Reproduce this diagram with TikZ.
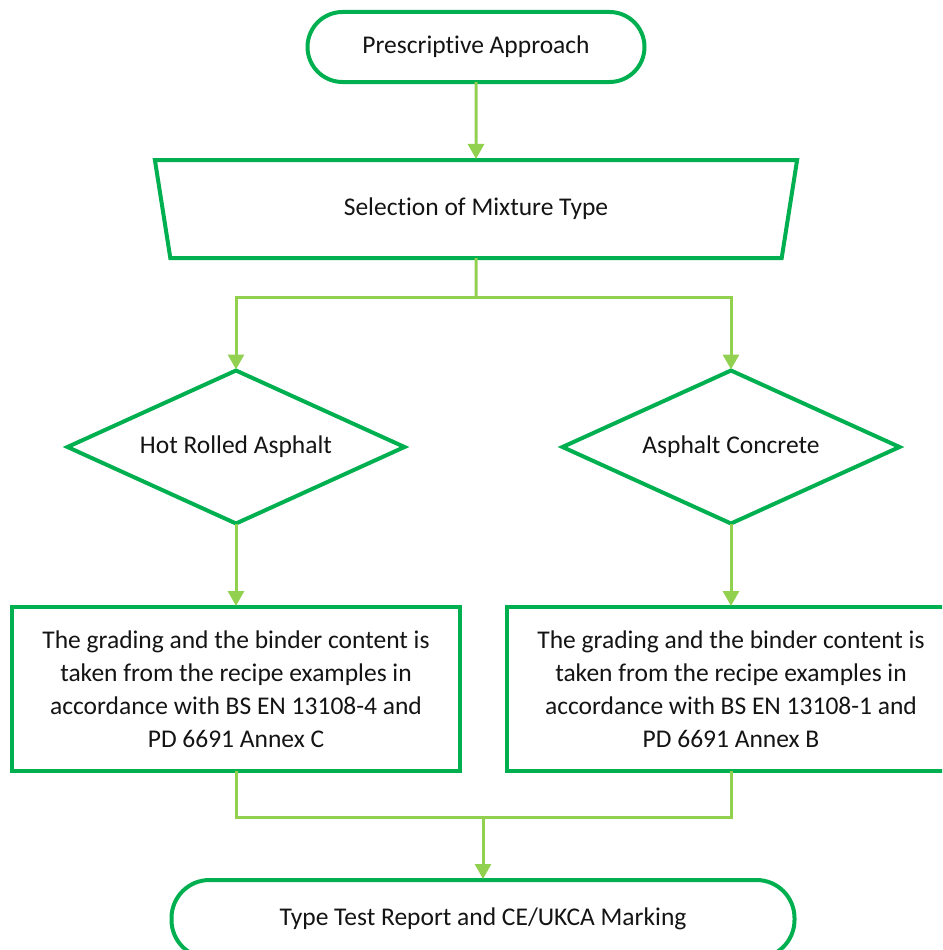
\documentclass[tikz,border=0pt]{standalone}
\usepackage{fontspec}
\setmainfont{Carlito}[Ligatures=CommonOff]
\usetikzlibrary{shapes.geometric,arrows.meta,calc}
\definecolor{edgegreen}{HTML}{00B050}
\definecolor{flowgreen}{HTML}{92D050}
\definecolor{inktext}{HTML}{141414}
\begin{document}
\begin{tikzpicture}[x=1pt,y=-1pt,
  every node/.style={font=\fontsize{25.5}{33}\selectfont, text=inktext},
  shapebase/.style={draw=edgegreen, line width=4pt, fill=white, inner sep=0pt, outer sep=0pt},
  terminal/.style={shapebase, rectangle, rounded corners=35pt, minimum height=70pt},
  choice/.style={shapebase, diamond, aspect=2.2, minimum width=337pt, minimum height=153pt},
  stepbox/.style={shapebase, rectangle, minimum width=448pt, minimum height=164pt, align=center},
  datain/.style={shapebase, trapezium, shape border rotate=180, trapezium left angle=73, trapezium right angle=73,
    trapezium stretches=true, minimum width=645pt, minimum height=98pt},
  flow/.style={draw=flowgreen, line width=3pt},
  arrowflow/.style={flow, -{Triangle[width=16pt,length=15pt]}, shorten >=1pt}
]
\useasboundingbox (0,0) rectangle (942,950);
\clip (0,0) rectangle (942,950);

% process nodes
\node[terminal, minimum width=337pt] (start) at (476,47) {Prescriptive Approach};
\node[datain] (select) at (476,209) {Selection of Mixture Type};
\node[choice] (hra) at (236,447) {Hot Rolled Asphalt};
\node[choice] (ac) at (731,447) {Asphalt Concrete};
\node[stepbox] (hrabox) at (236,689) {The grading and the binder content is\\ taken from the recipe examples in\\ accordance with BS EN 13108-4 and\\ PD 6691 Annex C};
\node[stepbox] (acbox) at (731,689) {The grading and the binder content is\\ taken from the recipe examples in\\ accordance with BS EN 13108-1 and\\ PD 6691 Annex B};
\node[terminal, rounded corners=38pt, minimum width=623pt, minimum height=78pt] (finish) at (483,919) {Type Test Report and CE/UKCA Marking};

% branch and merge points
\coordinate (split) at (476,297);
\coordinate (merge) at (483,817);

% connectors
\draw[arrowflow] (start.south) -- (select.north);
\draw[flow] (select.south) -- (split);
\draw[arrowflow] (split) -| (hra.north);
\draw[arrowflow] (split) -| (ac.north);
\draw[arrowflow] (hra.south) -- (hrabox.north);
\draw[arrowflow] (ac.south) -- (acbox.north);
\draw[flow] (hrabox.south) |- (merge) -| (acbox.south);
\draw[arrowflow] (merge) -- (finish.north);
\end{tikzpicture}
\end{document}
